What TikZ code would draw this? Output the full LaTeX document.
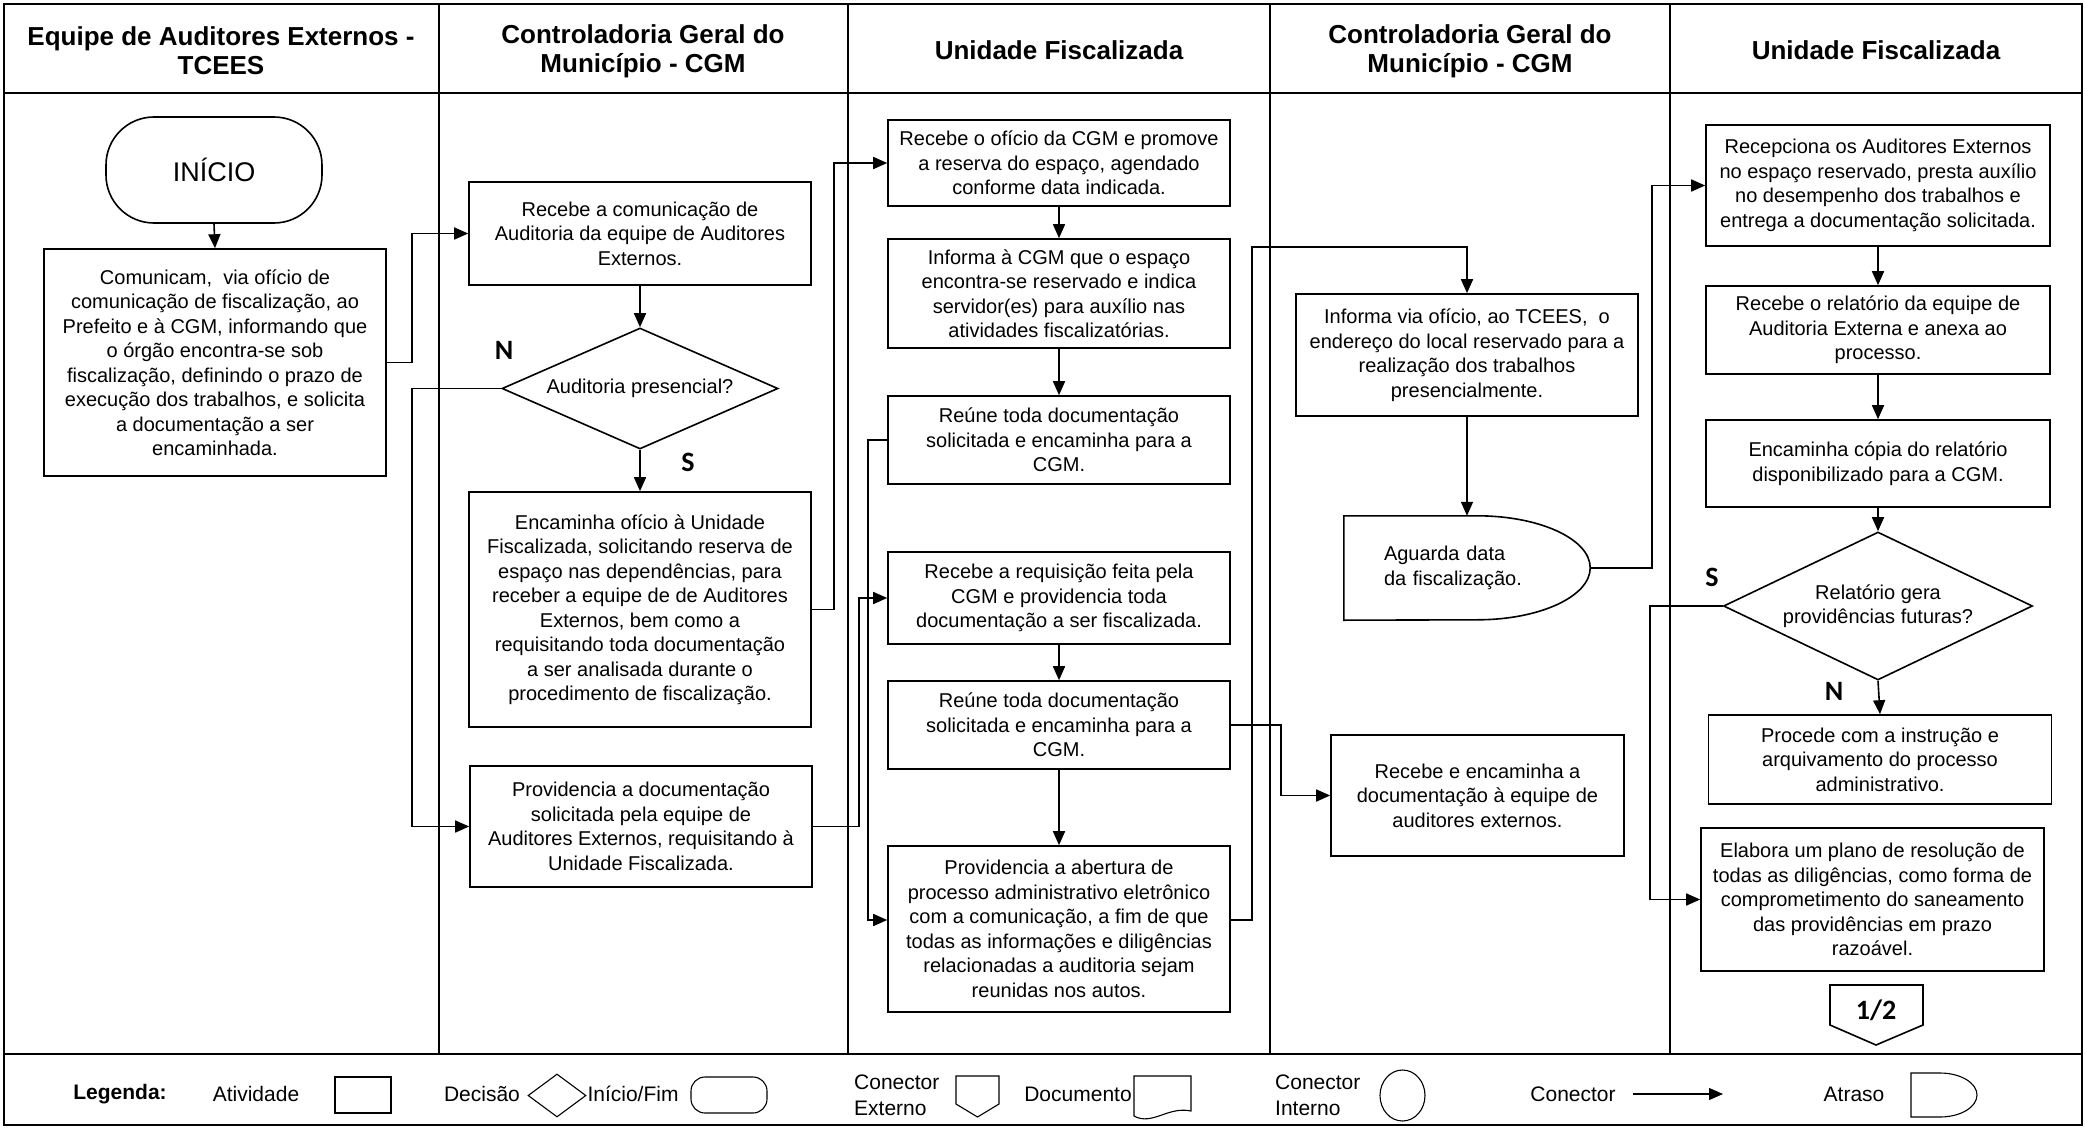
\documentclass[tikz,border=0pt]{standalone}
\usepackage{fontspec}
\setmainfont{Liberation Sans}
\newfontfamily\calibrifont{Carlito}
\usepackage{tikz}
\usetikzlibrary{calc,positioning,shapes.geometric,arrows.meta}

\newcommand{\flowtext}{\fontsize{20}{24.5}\selectfont}
\newcommand{\lanetitle}{\fontsize{26}{29}\selectfont\bfseries}
\newcommand{\legtext}{\fontsize{21}{26}\selectfont}
\newcommand{\branchlbl}{\fontsize{28}{30}\selectfont\calibrifont\bfseries}

\begin{document}
\begin{tikzpicture}[x=1pt,y=-1pt,inner sep=2pt,
  box/.style={draw,line width=1.6pt,minimum width=342pt,align=center,font=\flowtext},
  dec/.style={draw,diamond,line width=1.6pt,inner sep=0pt,align=center,font=\flowtext},
  conn/.style={line width=1.6pt,-{Triangle[length=14pt,width=12pt]}},
  legshape/.style={draw,line width=1.1pt}]
\useasboundingbox (0,0) rectangle (2085,1129);

\coordinate (NW) at (4,4);
\coordinate (SE) at (2082,1125);
\coordinate (bendTCEES) at (1467,247);



\draw[line width=2.5pt] (NW) rectangle (SE);
\draw[line width=2pt] (4,93)--(2082,93) (4,1054)--(2082,1054);
\foreach \xl in {439,848,1270,1670}
  \draw[line width=2pt] (\xl,4)--(\xl,1054);

\node (tit1) at (221,51)[font=\lanetitle,align=center]{Equipe de Auditores Externos -\\TCEES};
\node (tit2) at (643,51)[font=\lanetitle,align=center]{Controladoria Geral do\\Município - CGM};
\node (tit3) at (1059,50)[font=\lanetitle]{Unidade Fiscalizada};
\node (tit4) at (1470,51)[font=\lanetitle,align=center]{Controladoria Geral do\\Município - CGM};
\node (tit5) at (1876,50)[font=\lanetitle]{Unidade Fiscalizada};


\node (inicio) at (214,170)[draw,line width=1.6pt,rounded corners=48pt,minimum width=216pt,minimum height=106pt,font=\fontsize{27}{30}\selectfont]{INÍCIO};
\node (comunica) at (215,362.5)[box,minimum height=227pt]{Comunicam,\ \ via ofício de\\comunicação de fiscalização, ao\\Prefeito e à CGM, informando que\\o órgão encontra-se sob\\fiscalização, definindo o prazo de\\execução dos trabalhos, e solicita\\a documentação a ser\\encaminhada.};

\node (recebeCom) at (640,233.5)[box,minimum height=103pt]{Recebe a comunicação de\\Auditoria da equipe de Auditores\\Externos.};
\node (presencial) at (640,388.5)[dec,aspect=2.3,minimum width=276pt,minimum height=121pt]{Auditoria presencial?};
\node (encOficio) at (640,609.5)[box,minimum height=235pt]{Encaminha ofício à Unidade\\Fiscalizada, solicitando reserva de\\espaço nas dependências, para\\receber a equipe de de Auditores\\Externos, bem como a\\requisitando toda documentação\\a ser analisada durante o\\procedimento de fiscalização.};
\node (provDoc) at (641,826.5)[box,minimum height=121pt]{Providencia a documentação\\solicitada pela equipe de\\Auditores Externos, requisitando à\\Unidade Fiscalizada.};
\node (lblN1) at (504,350)[font=\branchlbl]{N};
\node (lblS1) at (688,462)[font=\branchlbl]{S};

\node (recOficio) at (1059,163)[box,minimum height=86pt]{Recebe o ofício da CGM e promove\\a reserva do espaço, agendado\\conforme data indicada.};
\node (infCGM) at (1059,293.5)[box,minimum height=109pt]{Informa à CGM que o espaço\\encontra-se reservado e indica\\servidor(es) para auxílio nas\\atividades fiscalizatórias.};
\node (reune1) at (1059,440)[box,minimum height=88pt]{Reúne toda documentação\\solicitada e encaminha para a\\CGM.};
\node (recReq) at (1059,598)[box,minimum height=92pt]{Recebe a requisição feita pela\\CGM e providencia toda\\documentação a ser fiscalizada.};
\node (reune2) at (1059,725)[box,minimum height=88pt]{Reúne toda documentação\\solicitada e encaminha para a\\CGM.};
\node (abertura) at (1059,929)[box,minimum height=166pt]{Providencia a abertura de\\processo administrativo eletrônico\\com a comunicação, a fim de que\\todas as informações e diligências\\relacionadas a auditoria sejam\\reunidas nos autos.};

\node (infTCEES) at (1467,355)[box,minimum height=122pt]{Informa via ofício, ao TCEES,\ \ o\\endereço do local reservado para a\\realização dos trabalhos\\presencialmente.};
\node (aguarda) at (1467,568)[minimum width=246pt,minimum height=104pt,text width=166pt,align=left,font=\flowtext]{Aguarda data\\da fiscalização.};
\draw[line width=1.6pt] (aguarda.north west) -- ($(aguarda.north east)+(-113,0)$) arc[start angle=90,end angle=-90,x radius=113pt,y radius=52pt] -- (aguarda.south west) -- cycle;
\node (recEnc) at (1477.5,795.5)[box,minimum width=293pt,minimum height=121pt]{Recebe e encaminha a\\documentação à equipe de\\auditores externos.};

\node (recepciona) at (1878,185.5)[box,minimum width=344pt,minimum height=121pt]{Recepciona os Auditores Externos\\no espaço reservado, presta auxílio\\no desempenho dos trabalhos e\\entrega a documentação solicitada.};
\node (recRel) at (1878,330)[box,minimum width=344pt,minimum height=88pt]{Recebe o relatório da equipe de\\Auditoria Externa e anexa ao\\processo.};
\node (encCopia) at (1878,463.5)[box,minimum width=344pt,minimum height=87pt]{Encaminha cópia do relatório\\disponibilizado para a CGM.};
\node (futuras) at (1878,606)[dec,aspect=2.09,minimum width=309pt,minimum height=148pt]{Relatório gera\\providências futuras?};
\node (procede) at (1880,759.5)[box,minimum width=343pt,minimum height=89pt]{Procede com a instrução e\\arquivamento do processo\\administrativo.};
\node (elabora) at (1872.5,899.5)[box,minimum width=343pt,minimum height=143pt]{Elabora um plano de resolução de\\todas as diligências, como forma de\\comprometimento do saneamento\\das providências em prazo\\razoável.};
\node (lblS2) at (1712,577)[font=\branchlbl]{S};
\node (lblN2) at (1834,691)[font=\branchlbl]{N};
\node (pagina) at (1876,1010)[font=\branchlbl]{1/2};
\draw[line width=1.6pt] (1830,985) -- (1923,985) -- (1923,1025) -- (1876,1045) -- (1830,1025) -- cycle;


\draw[conn] (inicio.south) -- (comunica.north);
\draw[conn] (comunica.east) -- ++(25,0) |- (recebeCom.west);
\draw[conn] (recebeCom.south) -- (presencial.north);
\draw[conn] (presencial.south) -- (encOficio.north);
\draw[conn] (presencial.west) -- ++(-89,0) |- (provDoc.west);
\draw[conn] (encOficio.east) -- ++(22,0) |- (recOficio.west);
\draw[conn] (provDoc.east) -- ++(46,0) |- (recReq.west);
\draw[conn] (recOficio.south) -- (infCGM.north);
\draw[conn] (infCGM.south) -- (reune1.north);
\draw[conn] (reune1.west) -- ++(-19,0) |- ([yshift=9pt]abertura.west);
\draw[conn] (recReq.south) -- (reune2.north);
\draw[conn] (reune2.south) -- (abertura.north);
\draw[conn] ([yshift=9pt]abertura.east) -- ++(21,0) |- (bendTCEES) -- (infTCEES.north);
\draw[conn] (reune2.east) -- ++(50,0) |- (recEnc.west);
\draw[conn] (infTCEES.south) -- (aguarda.north);
\draw[conn] (aguarda.east) -- ++(62,0) |- (recepciona.west);
\draw[conn] (recepciona.south) -- (recRel.north);
\draw[conn] (recRel.south) -- (encCopia.north);
\draw[conn] (encCopia.south) -- (futuras.north);
\draw[conn] (futuras.south) -- (procede.north);
\draw[conn] (futuras.west) -- ++(-73,0) |- (elabora.west);


\node (legenda) at (120,1094)[font=\legtext\bfseries]{Legenda:};
\node (legAtiv) at (256,1094)[font=\legtext]{Atividade};
\node (legAtivBox) at (363,1095)[legshape,minimum width=56pt,minimum height=36pt]{};
\node (legDecisao) at (482,1094)[font=\legtext]{Decisão};
\node (legDecShape) at (557,1095.5)[legshape,diamond,minimum width=58pt,minimum height=43pt,inner sep=0pt]{};
\node (legInicio) at (633,1094)[font=\legtext]{Início/Fim};
\node (legInicioShape) at (729,1095)[legshape,rounded corners=14pt,minimum width=76pt,minimum height=36pt]{};
\node (legExterno) at (852,1095)[anchor=west,font=\legtext,align=left]{Conector\\Externo};
\draw[line width=1.1pt] (956,1076) -- (999,1076) -- (999,1104) -- (977.5,1117) -- (956,1104) -- cycle;
\node (legDoc) at (1078,1094)[font=\legtext]{Documento};
\draw[line width=1.1pt] (1134,1076) -- (1134,1116) .. controls (1152,1126) and (1168,1106) .. (1191,1111) -- (1191,1076) -- cycle;
\node (legInterno) at (1273,1095)[anchor=west,font=\legtext,align=left]{Conector\\Interno};
\node (legCirc) at (1402.5,1095.5)[legshape,ellipse,minimum width=45pt,minimum height=51pt,inner sep=0pt]{};
\node (legConector) at (1573,1094)[font=\legtext]{Conector};
\coordinate (legSetaA) at (1633,1094);
\coordinate (legSetaB) at (1723,1094);
\draw[line width=1.2pt,-{Triangle[length=14pt,width=12pt]}] (legSetaA) -- (legSetaB);
\node (legAtraso) at (1854,1094)[font=\legtext]{Atraso};
\draw[line width=1.1pt] (1911,1073) -- (1940,1073) arc[start angle=90,end angle=-90,x radius=37pt,y radius=22pt] -- (1911,1117) -- cycle;

\end{tikzpicture}
\end{document}
